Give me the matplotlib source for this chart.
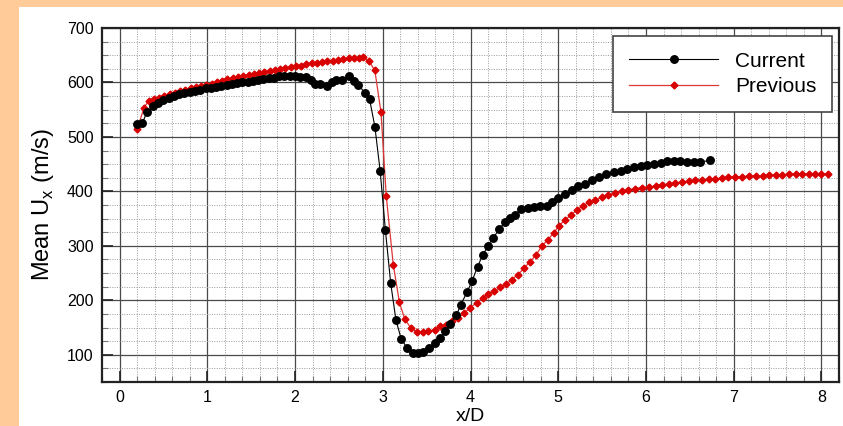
import matplotlib
matplotlib.use("Agg")
import matplotlib.pyplot as plt
from matplotlib.patches import Rectangle
from matplotlib.ticker import MultipleLocator

# ---- data ----
cur_x = [0.20, 0.26, 0.31, 0.38, 0.44, 0.50, 0.56, 0.62, 0.68, 0.74,
         0.80, 0.86, 0.92, 0.98, 1.04, 1.10, 1.16, 1.22, 1.28, 1.34,
         1.40, 1.46, 1.52, 1.58, 1.64, 1.70, 1.76, 1.82, 1.88, 1.94,
         2.00, 2.06, 2.12, 2.18, 2.23, 2.29, 2.36, 2.42, 2.47, 2.54,
         2.61, 2.67, 2.72, 2.80, 2.85, 2.91, 2.97, 3.03, 3.09, 3.15,
         3.21, 3.28, 3.34, 3.40, 3.46, 3.53, 3.59, 3.65, 3.71, 3.77,
         3.84, 3.89, 3.96, 4.02, 4.08, 4.14, 4.20, 4.26, 4.33, 4.39,
         4.45, 4.51, 4.57, 4.65, 4.72, 4.79, 4.87, 4.93, 5.00, 5.08,
         5.16, 5.23, 5.31, 5.38, 5.46, 5.55, 5.63, 5.71, 5.78, 5.86,
         5.94, 6.01, 6.09, 6.17, 6.24, 6.32, 6.39, 6.47, 6.55, 6.62,
         6.73]
cur_y = [524, 525, 545, 557, 563, 568, 572, 575, 578, 580,
         582, 585, 587, 589, 590, 592, 594, 595, 597, 599,
         600, 601, 603, 605, 607, 608, 609, 611, 612, 611,
         611, 610, 610, 605, 598, 597, 594, 600, 605, 604,
         611, 603, 595, 581, 569, 519, 438, 329, 232, 164,
         129, 112, 103, 103, 105, 112, 121, 131, 143, 157,
         173, 192, 215, 236, 262, 283, 300, 315, 331, 343,
         351, 357, 367, 369, 371, 373, 374, 381, 388, 395,
         402, 409, 414, 421, 427, 432, 435, 437, 441, 444,
         447, 448, 451, 452, 455, 455, 455, 454, 454, 454,
         457]

prev_x = [0.20, 0.28, 0.33, 0.39, 0.45, 0.51, 0.57, 0.63, 0.69, 0.75,
          0.81, 0.87, 0.93, 0.99, 1.05, 1.11, 1.17, 1.23, 1.29, 1.35,
          1.41, 1.47, 1.53, 1.59, 1.65, 1.71, 1.77, 1.83, 1.89, 1.95,
          2.01, 2.07, 2.13, 2.19, 2.25, 2.31, 2.37, 2.43, 2.49, 2.55,
          2.61, 2.67, 2.73, 2.78, 2.84, 2.91, 2.98, 3.04, 3.12, 3.19,
          3.25, 3.32, 3.39, 3.46, 3.52, 3.59, 3.65, 3.72, 3.79, 3.86,
          3.93, 3.99, 4.07, 4.14, 4.20, 4.27, 4.34, 4.41, 4.47, 4.54,
          4.61, 4.68, 4.75, 4.81, 4.88, 4.95, 5.01, 5.08, 5.15, 5.21,
          5.28, 5.35, 5.42, 5.50, 5.57, 5.65, 5.73, 5.80, 5.88, 5.95,
          6.03, 6.11, 6.18, 6.26, 6.33, 6.41, 6.49, 6.56, 6.64, 6.72,
          6.79, 6.87, 6.94, 7.02, 7.10, 7.17, 7.25, 7.33, 7.40, 7.48,
          7.55, 7.63, 7.71, 7.78, 7.86, 7.93, 8.00, 8.07]
prev_y = [514, 554, 566, 569, 572, 575, 578, 581, 584, 587,
          589, 591, 593, 596, 598, 601, 603, 606, 608, 610,
          612, 614, 616, 618, 620, 621, 623, 625, 627, 628,
          630, 631, 633, 635, 636, 638, 639, 640, 641, 643,
          644, 645, 645, 646, 640, 622, 545, 391, 265, 196,
          166, 149, 142, 141, 143, 146, 152, 155, 162, 168,
          176, 186, 195, 204, 212, 217, 224, 230, 238, 247,
          259, 271, 284, 299, 311, 324, 337, 348, 357, 366,
          373, 380, 384, 389, 393, 397, 400, 403, 405, 407,
          408, 410, 412, 414, 415, 417, 419, 420, 421, 422,
          423, 424, 426, 426, 427, 428, 428, 428, 430, 430,
          430, 432, 432, 432, 432, 432, 432, 432]

x_ticks = [0, 1, 2, 3, 4, 5, 6, 7, 8]
y_ticks = [100, 200, 300, 400, 500, 600, 700]

plt.rcParams["font.family"] = ["Liberation Sans", "DejaVu Sans"]

W, H = 843, 426
fig = plt.figure(figsize=(W / 100, H / 100), dpi=100)
fig.patch.set_facecolor("#ffcc99")
# white panel inside the orange frame
panel = Rectangle((19 / W, 0), 1, 1 - 7 / H, transform=fig.transFigure,
                  facecolor="white", edgecolor="none", zorder=-5)
fig.add_artist(panel)

ax = fig.add_axes([102 / W, 1 - 382 / H, (839 - 102) / W, (382 - 28) / H])
ax.set_zorder(2)

ax.plot(cur_x, cur_y, color="black", lw=0.8, marker="o", ms=5.4,
        mfc="black", mec="black", label="Current", zorder=4)
ax.plot(prev_x, prev_y, color="#e03535", lw=0.9, marker="D", ms=3.5,
        mfc="#d80000", mec="#d80000", label="Previous", zorder=3)

ax.set_xlim(-0.2, 8.2)
ax.set_ylim(50, 700)
ax.set_xticks(x_ticks)
ax.set_yticks(y_ticks)
ax.xaxis.set_minor_locator(MultipleLocator(0.2))
ax.yaxis.set_minor_locator(MultipleLocator(25))

ax.grid(which="major", color="#4a4a4a", lw=0.9, ls="-", zorder=1)
ax.grid(which="minor", color="#9a9a9a", lw=0.7, ls=(0, (1, 1.5)), zorder=1)
ax.set_axisbelow(True)

ax.tick_params(which="major", direction="in", length=8, width=1.2,
               color="#222222", labelsize=11.5, pad=6,
               top=False, right=False)
ax.tick_params(which="minor", direction="in", length=4, width=0.8,
               color="#777777", top=False, right=False)

for sp in ax.spines.values():
    sp.set_linewidth(1.6)
    sp.set_color("#222222")

ax.set_ylabel("Mean U$_\\mathregular{x}$ (m/s)", fontsize=17, labelpad=8)
ax.set_xlabel("x/D", fontsize=14, labelpad=2)

leg = ax.legend(loc="upper right", bbox_to_anchor=(0.9905, 0.977),
                borderaxespad=0, fontsize=15, handlelength=4.3,
                handletextpad=0.8, labelspacing=0.3, borderpad=0.75,
                fancybox=False, framealpha=1, edgecolor="#444444")
leg.get_frame().set_linewidth(1.2)

fig.savefig("out.png", dpi=100, facecolor=fig.get_facecolor())
